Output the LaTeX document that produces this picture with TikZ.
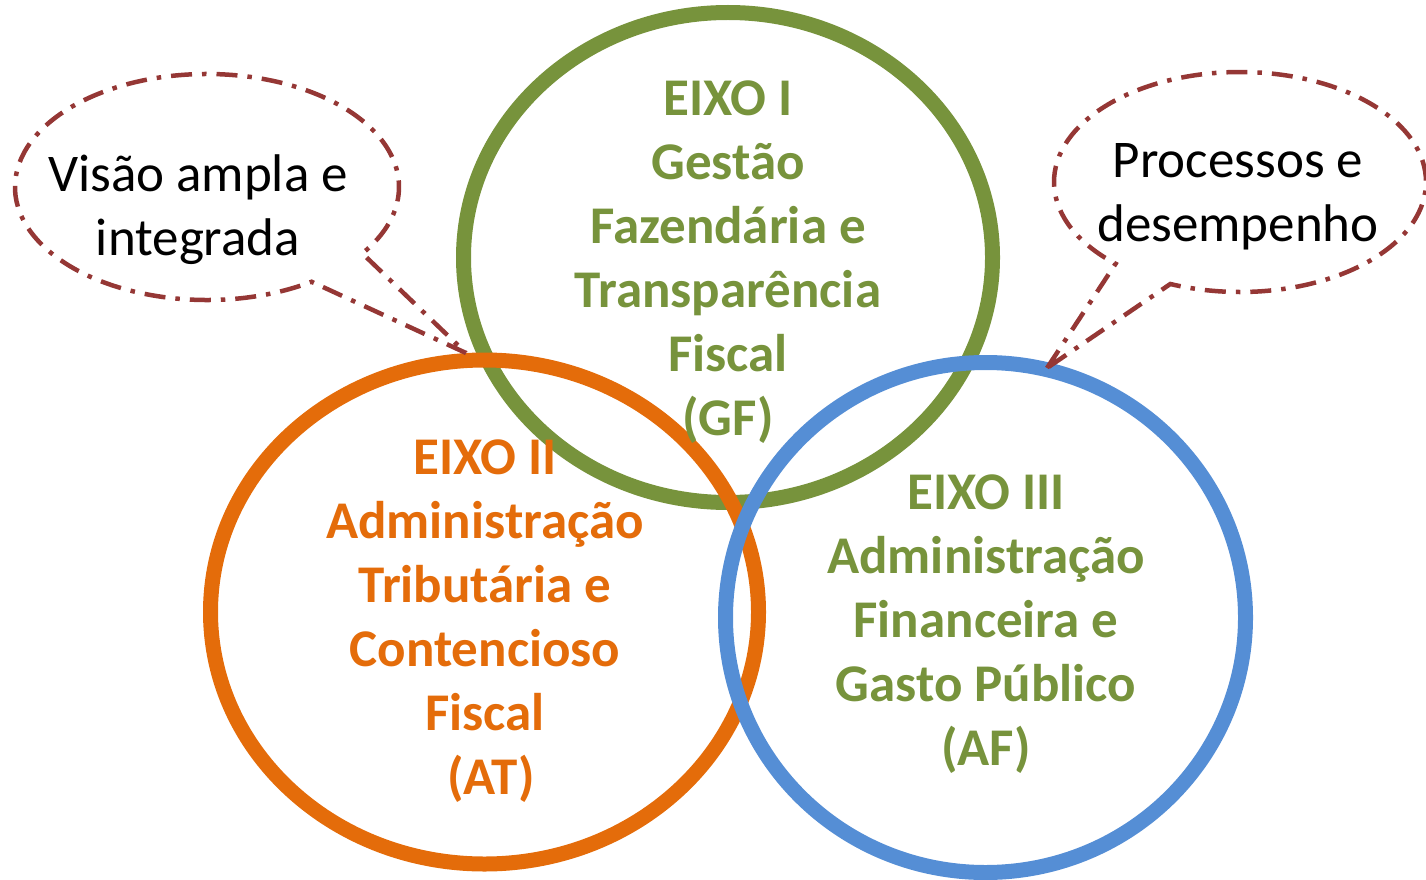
\documentclass[tikz,border=0pt]{standalone}
\usepackage{fontspec}
\setmainfont{Carlito}
\usetikzlibrary{calc}
\definecolor{gfgreen}{HTML}{77933C}
\definecolor{atorange}{HTML}{E46C0A}
\definecolor{afblue}{HTML}{558ED5}
\definecolor{calloutred}{HTML}{953735}
\tikzset{
  ring/.style={line width=15pt},
  axistext/.style={align=center, inner sep=0pt, font=\bfseries\fontsize{53}{64}\selectfont},
  callouttext/.style={align=center, inner sep=0pt, font=\fontsize{53}{64}\selectfont, text=black},
  calloutline/.style={draw=calloutred, line width=4.5pt, dash pattern=on 21pt off 10pt on 4.5pt off 10pt, line join=miter}
}
\begin{document}
\begin{tikzpicture}[x=1pt, y=-1pt]
\useasboundingbox (0,0) rectangle (1426,880);
% circles
\draw[ring, draw=gfgreen] (728,257.5) ellipse [x radius=264.5, y radius=245];
\draw[ring, draw=atorange] (484.5,612) ellipse [x radius=274, y radius=252];
\draw[ring, draw=afblue] (985.5,617.5) ellipse [x radius=260, y radius=255];
% callouts
\coordinate (tipL) at (466,353);
\coordinate (tipR) at (1047,368);
\draw[calloutline] (tipL) -- ($(207,187)+(57:192 and 113)$) arc[start angle=57, end angle=396, x radius=192, y radius=113] -- cycle;
\draw[calloutline] (tipR) -- ($(1240,182)+(132:186 and 110)$) arc[start angle=132, end angle=472, x radius=186, y radius=110] -- cycle;
% texts
\node[callouttext] (visao) at (198,210) {Visão ampla e\\integrada};
\node[callouttext] (proc) at (1238,197) {Processos e\\desempenho};
\node[axistext, text=gfgreen] (gf) at (728,262) {EIXO I\\Gestão\\Fazendária e\\Transparência\\Fiscal\\(GF)};
\node[axistext, text=atorange] (at) at (485,621) {EIXO II\\Administração\\Tributária e\\Contencioso\\Fiscal\\\ (AT)};
\node[axistext, text=gfgreen] (af) at (986,624) {EIXO III\\Administração\\Financeira e\\Gasto Público\\(AF)};
\end{tikzpicture}
\end{document}
